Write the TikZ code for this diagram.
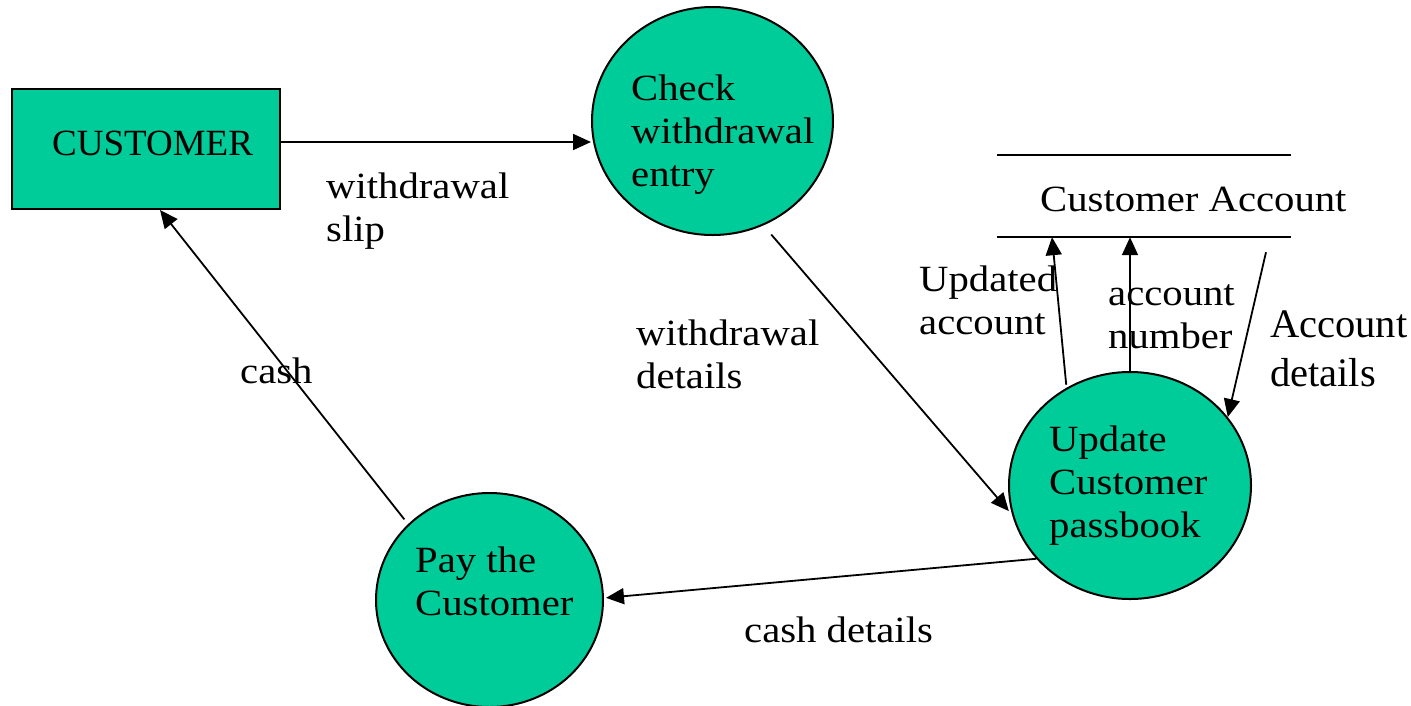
\documentclass[tikz,border=0pt]{standalone}
\usepackage{fontspec}
\setmainfont{Liberation Serif}[FakeStretch=1.1]
\newfontfamily\plainserif{Liberation Serif}
\usetikzlibrary{arrows.meta,shapes.geometric}
\definecolor{procgreen}{RGB}{0,204,153}
\begin{document}
\begin{tikzpicture}[x=1pt,y=-1pt,
  proc/.style={ellipse, draw=black, line width=2pt, fill=procgreen, inner sep=0pt},
  entity/.style={rectangle, draw=black, line width=2pt, fill=procgreen, inner sep=0pt, minimum width=268pt, minimum height=120pt},
  txt/.style={anchor=base west, align=left, inner sep=0pt, font=\fontsize{37}{43}\selectfont},
  bigtxt/.style={anchor=base west, align=left, inner sep=0pt, font=\plainserif\fontsize{40.5}{49}\selectfont},
  flow/.style={-{Triangle[length=18pt,width=16pt]}, line width=1.8pt},
  storeline/.style={line width=2.5pt}]
\useasboundingbox (0,0) rectangle (1411,705);
\fill[white] (0,0) rectangle (1411,705);
% shapes
\node[entity] (cust) at (146,149) {};
\node[proc, minimum width=241pt, minimum height=228pt] (check) at (712.5,121) {};
\node[proc, minimum width=242pt, minimum height=227pt] (upd) at (1130,485.5) {};
\node[proc, minimum width=227pt, minimum height=214pt] (pay) at (489.5,600) {};
\node[minimum width=294pt, minimum height=82pt, inner sep=0pt] (store) at (1144,196) {};
\draw[storeline] (store.north west) -- (store.north east);
\draw[storeline] (store.south west) -- (store.south east);
% texts in shapes (anchored at the baseline of the last line)
\node[txt, font=\plainserif\fontsize{37}{43}\selectfont] (custtxt) at (52,155) {CUSTOMER};
\node[txt] (checktxt) at (631,186) {Check\\withdrawal\\entry};
\node[txt] (updtxt) at (1049,537) {Update\\Customer\\passbook};
\node[txt] (paytxt) at (415,615) {Pay the\\Customer};
\node[txt] (storetxt) at (1040,211) {Customer Account};
% flow labels
\node[txt] (l1) at (326,241) {withdrawal\\slip};
\node[txt] (l2) at (636,388) {withdrawal\\details};
\node[txt] (l3) at (744,642) {cash details};
\node[txt] (l4) at (240,383) {cash};
\node[txt] (l5) at (919,334) {Updated\\account};
\node[txt] (l6) at (1108,348) {account\\number};
\node[bigtxt] (l7) at (1270,386) {Account\\details};
% flows
\draw[flow] ([yshift=7pt]cust.east) -- ([yshift=7pt]cust.east -| check.west);
\draw[flow, shorten <=12pt, shorten >=5pt] (check.-64.4) -- (upd.194.4);
\draw[flow, shorten >=2pt] (upd.218.5) -- (pay.1);
\draw[flow, shorten <=6pt] (pay.137.2) -- ([xshift=14pt]cust.south);
\draw[flow, shorten <=3pt] (upd.123.3) -- ([xshift=-92pt]store.south);
\draw[flow] (upd.north) -- (upd.north |- store.south);
\coordinate (adsrc) at ([xshift=122pt,yshift=-15pt]store.south);
\draw[flow] (adsrc) -- (upd.35.2);
\end{tikzpicture}
\end{document}
